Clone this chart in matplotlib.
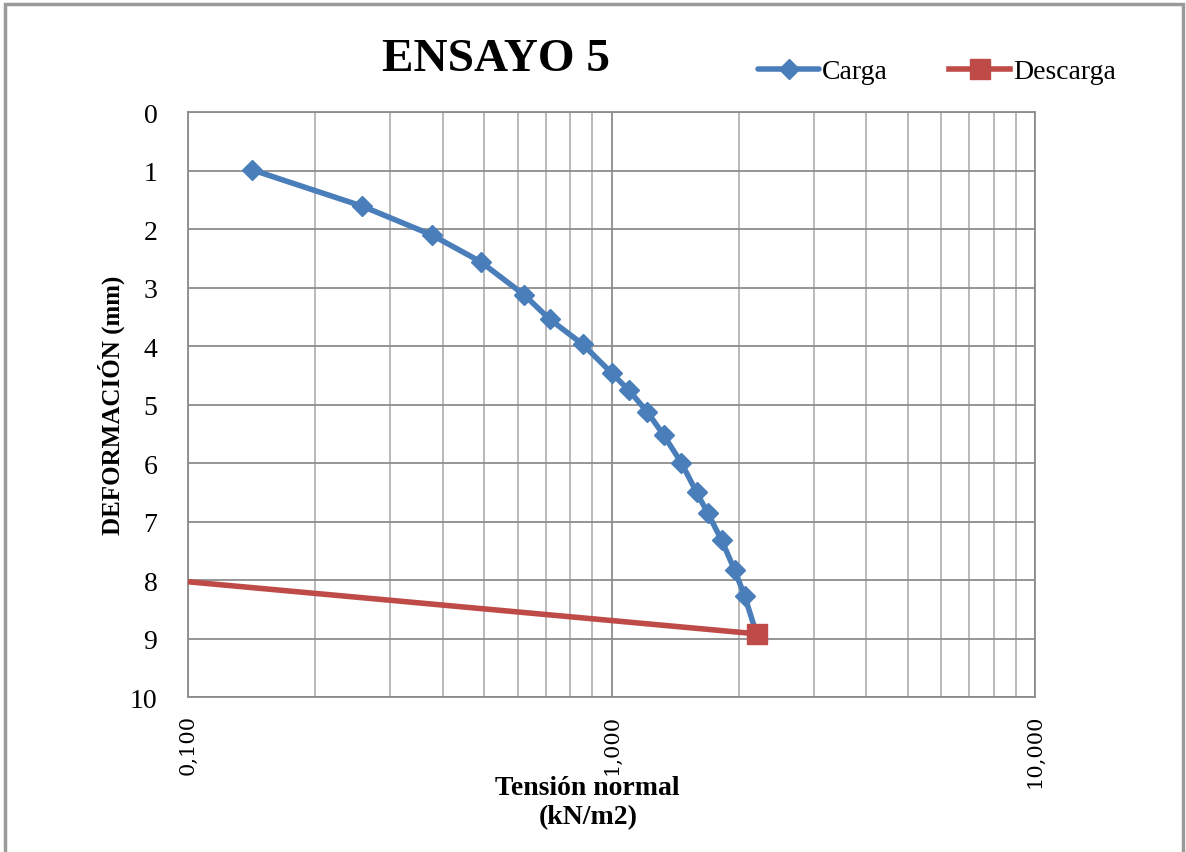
import matplotlib.pyplot as plt
from matplotlib.patches import Rectangle
from matplotlib.ticker import FixedLocator, FixedFormatter, LogLocator, NullFormatter

# carga (loading) curve
carga_x = [0.142, 0.258, 0.376, 0.491, 0.623, 0.714, 0.855, 1.0, 1.097, 1.216,
           1.327, 1.463, 1.588, 1.686, 1.820, 1.953, 2.062, 2.20]
carga_y = [0.99, 1.61, 2.10, 2.56, 3.13, 3.54, 3.97, 4.46, 4.75, 5.13,
           5.52, 6.00, 6.50, 6.85, 7.32, 7.83, 8.27, 8.92]

# descarga (unloading): last point lies left of the axis and is clipped
descarga_x = [2.20, 0.05]
descarga_y = [8.92, 7.83]

x_ticks = [0.1, 1, 10]
x_labels = ['0,100', '1,000', '10,000']
y_ticks = list(range(0, 11))

blue = '#4a7ebb'
red = '#be4b48'
grid_c = '#8c8c8c'

plt.rcParams['font.family'] = 'Liberation Serif'

fig = plt.figure(figsize=(11.86, 8.53), dpi=100)
ax = fig.add_axes([0.1585, 0.1817, 0.7142, 0.6858])

ax.plot(carga_x, carga_y, color=blue, lw=4, marker='D', ms=10,
        label='Carga', solid_joinstyle='round', solid_capstyle='round', zorder=3)
ax.plot(descarga_x, descarga_y, color=red, lw=4, marker='s', ms=15,
        label='Descarga', zorder=3)

ax.set_xscale('log')
ax.set_xlim(0.1, 10)
ax.set_ylim(10, 0)

ax.xaxis.set_major_locator(FixedLocator(x_ticks))
ax.xaxis.set_major_formatter(FixedFormatter(x_labels))
ax.xaxis.set_minor_locator(LogLocator(base=10, subs=range(2, 10)))
ax.xaxis.set_minor_formatter(NullFormatter())
ax.set_yticks(y_ticks)

ax.grid(which='major', axis='both', color=grid_c, lw=1.3)
ax.grid(which='minor', axis='x', color='#a6a6a6', lw=1.1)
ax.set_axisbelow(True)
for s in ax.spines.values():
    s.set_color(grid_c)
    s.set_linewidth(1.3)
ax.tick_params(which='both', length=0)
ax.tick_params(axis='y', labelsize=20, pad=22)
ax.tick_params(axis='x', labelsize=15, pad=12, labelrotation=90,
               labelfontfamily='DejaVu Serif')

ax.set_ylabel('DEFORMACIÓN (mm)', fontsize=18, fontweight='bold')
ax.yaxis.set_label_coords(-0.074, 0.5)
ax.set_xlabel('Tensión normal\n(kN/m2)', fontsize=20, fontweight='bold',
              linespacing=1.25)
ax.xaxis.set_label_coords(0.472, -0.133)

fig.text(0.418, 0.93, 'ENSAYO 5', fontsize=34, fontweight='bold',
         ha='center', va='center')

leg = fig.legend(loc='center', bbox_to_anchor=(0.79, 0.915), ncol=2,
                 frameon=False, prop={'size': 20},
                 handlelength=2.2, handletextpad=0.1, columnspacing=2.2)

fig.add_artist(Rectangle((5 / 1186, -0.01), 1178 / 1186, 1 - 5 / 853 + 0.01,
                         transform=fig.transFigure, fill=False,
                         edgecolor='#9a9a9a', lw=2.5))

fig.savefig('out.png', dpi=100)
